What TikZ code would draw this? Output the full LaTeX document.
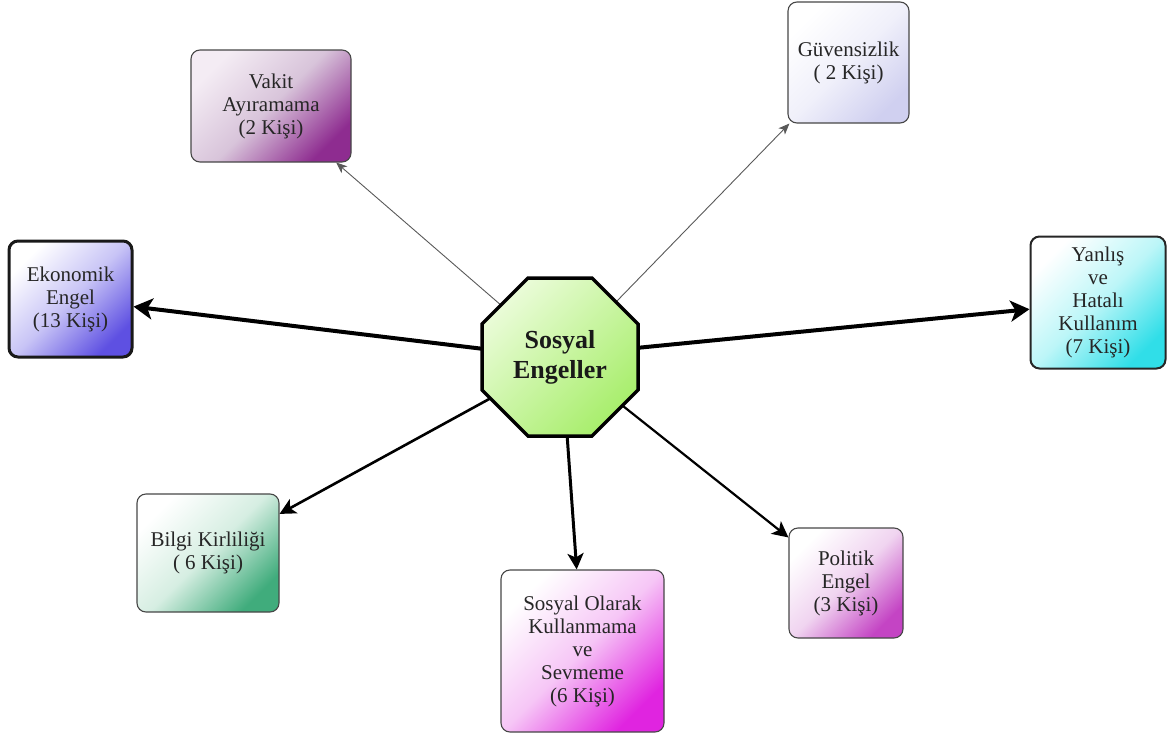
\documentclass[tikz,border=0pt]{standalone}
\usepackage{fontspec}
\setmainfont{Liberation Serif}
\usetikzlibrary{arrows.meta}

\definecolor{vakitT}{HTML}{F4ECF4}
\definecolor{vakitC}{HTML}{8E2C90}
\definecolor{vakitM}{HTML}{D8C4DA}
\definecolor{guvenC}{HTML}{D0D0F0}
\definecolor{guvenM}{HTML}{F0F0FA}
\definecolor{ekonC}{HTML}{5E50E2}
\definecolor{ekonM}{HTML}{C8C4F6}
\definecolor{yanlisC}{HTML}{30DEE8}
\definecolor{yanlisM}{HTML}{BCF6F8}
\definecolor{bilgiC}{HTML}{40AC7C}
\definecolor{bilgiM}{HTML}{D6EEE2}
\definecolor{sosyalC}{HTML}{E024E0}
\definecolor{sosyalM}{HTML}{F6C6F6}
\definecolor{politikC}{HTML}{C444C4}
\definecolor{politikM}{HTML}{F0D4F0}
\definecolor{hubTop}{HTML}{EAFCD8}
\definecolor{hubBot}{HTML}{A8EE6C}

\begin{document}
\begin{tikzpicture}[x=1pt,y=-1pt,
  box/.style={draw=black!72, line width=1.1pt, rounded corners=9pt,
    align=center, inner sep=0pt, text=black!85,
    font=\fontsize{21}{23}\selectfont},
  grad/.style 2 args={top color=white, bottom color=#1, middle color=#2,
    shading angle=45},
  thinarrow/.style={draw=black!65, line width=0.9pt,
    -{Stealth[length=11pt,width=9pt,inset=3pt]}},
  heavyarrow/.style={draw=black, line width=4pt,
    -{Stealth[length=19pt,width=21pt,inset=5pt]}},
  midarrow/.style={draw=black, line width=#1,
    -{Stealth[length=16pt,width=16pt,inset=4pt]}},
]
\useasboundingbox (0,0) rectangle (1170,736);

% outer boxes
\node[box, top color=vakitT, bottom color=vakitC, middle color=vakitM,
  shading angle=45, minimum width=160pt, minimum height=112pt]
  (vakit) at (271,106) {Vakit\\Ayıramama\\(2 Kişi)};
\node[box, grad={guvenC}{guvenM}, minimum width=121pt, minimum height=121pt]
  (guven) at (848.5,62.5) {Güvensizlik\\( 2 Kişi)};
\node[box, grad={ekonC}{ekonM}, line width=3pt, draw=black!90,
  minimum width=123pt, minimum height=116pt]
  (ekon) at (70.5,299) {Ekonomik\\Engel\\(13 Kişi)};
\node[box, grad={yanlisC}{yanlisM}, line width=2pt, draw=black!85,
  minimum width=135pt, minimum height=132pt]
  (yanlis) at (1098,302.5) {Yanlış\\ve\\Hatalı\\Kullanım\\(7 Kişi)};
\node[box, grad={bilgiC}{bilgiM}, minimum width=142pt, minimum height=118pt]
  (bilgi) at (208,553) {Bilgi Kirliliği\\( 6 Kişi)};
\node[box, grad={sosyalC}{sosyalM}, minimum width=163pt, minimum height=162pt]
  (sosyal) at (582.5,651) {Sosyal Olarak\\Kullanmama\\ve\\Sevmeme\\(6 Kişi)};
\node[box, grad={politikC}{politikM}, minimum width=114pt, minimum height=110pt]
  (politik) at (846,583) {Politik\\Engel\\(3 Kişi)};

% points where the connectors leave the octagon
\coordinate (sVak) at (502,306);
\coordinate (sGuv) at (616,302);
\coordinate (sEko) at (484,349);
\coordinate (sYan) at (636,348);
\coordinate (sBil) at (491,398);
\coordinate (sSos) at (567,434);
\coordinate (sPol) at (623,406);

% connectors
\draw[thinarrow] (sVak) -- (vakit);
\draw[thinarrow] (sGuv) -- (guven);
\draw[heavyarrow] (sEko) -- (ekon);
\draw[heavyarrow] (sYan) -- (yanlis);
\draw[midarrow=2.6pt] (sBil) -- (bilgi);
\draw[midarrow=3pt] (sSos) -- (sosyal);
\draw[midarrow=2.2pt] (sPol) -- (politik);

% central octagon
\shade[draw=black, line width=3.5pt, line join=miter,
  top color=hubTop, bottom color=hubBot, shading angle=45]
  (528,278) -- (592,278) -- (638,324) -- (638,390) -- (592,436)
  -- (528,436) -- (482,390) -- (482,324) -- cycle;
\node[align=center, text=black!90,
  font=\fontsize{26}{30}\selectfont\bfseries]
  (hub) at (560,357) {Sosyal\\Engeller};
\end{tikzpicture}
\end{document}
